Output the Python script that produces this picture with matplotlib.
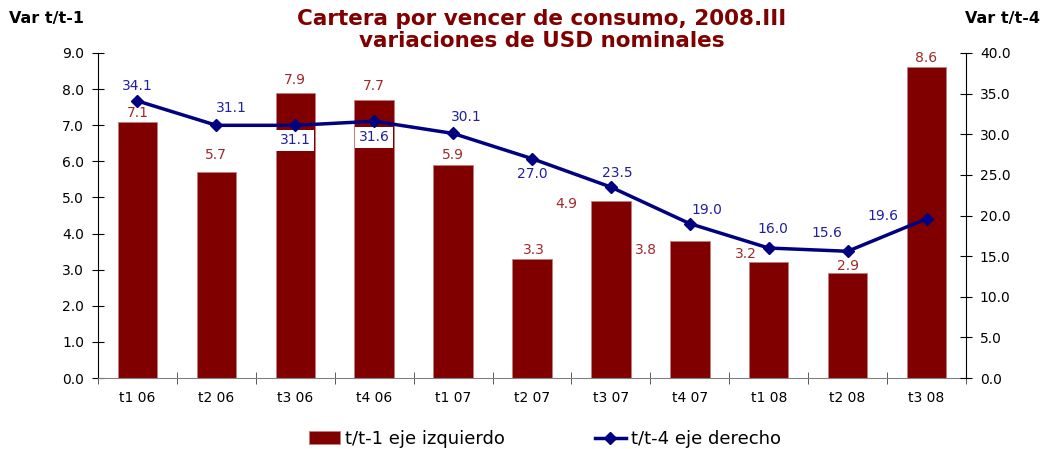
import matplotlib

matplotlib.use("Agg")
import matplotlib.pyplot as plt
import numpy as np

plt.rcParams["font.family"] = ["DejaVu Sans"]

# data
quarters = ["t1 06", "t2 06", "t3 06", "t4 06", "t1 07", "t2 07",
            "t3 07", "t4 07", "t1 08", "t2 08", "t3 08"]
var_t1 = [7.1, 5.7, 7.9, 7.7, 5.9, 3.3, 4.9, 3.8, 3.2, 2.9, 8.6]
var_t4 = [34.1, 31.1, 31.1, 31.6, 30.1, 27.0, 23.5, 19.0, 16.0, 15.6, 19.6]

# label centre offsets (pixels) so labels sit where the original put them
bar_off = [(0, 9), (0, 17), (0, 13), (0, 14), (0, 10), (2, 9),
           (-45, -3), (-44, -9), (-23, 8), (0, 7), (0, 9)]
line_off = [(0, 15), (15, 17), (0, -15), (0, -16), (13, 16), (0, -15),
            (6, 14), (17, 14), (4, 19), (-21, 18), (-44, 3)]

BAR = "#800000"
BAR_TXT = "#a0282a"
LINE = "#000080"
LINE_TXT = "#2020a0"

fig = plt.figure(figsize=(10.46, 4.49), dpi=100)
ax = fig.add_axes([0.0937, 0.158, 0.8298, 0.724])
ax2 = ax.twinx()
ax.set_zorder(ax2.get_zorder() - 1)
ax.patch.set_visible(True)
ax2.patch.set_visible(False)

x = np.arange(len(quarters))
bars = ax.bar(x, var_t1, width=0.5, color=BAR, edgecolor="#c08080", linewidth=0.6)
line, = ax2.plot(x, var_t4, color=LINE, lw=2.5, marker="D", ms=6, zorder=5)

ax.set_xlim(-0.5, len(quarters) - 0.5)
ax.set_ylim(0, 9)
ax2.set_ylim(0, 40)
ax.set_yticks(np.arange(0, 9.1, 1.0))
ax.set_yticklabels([f"{v:.1f}" for v in np.arange(0, 9.1, 1.0)])
ax2.set_yticks(np.arange(0, 40.1, 5.0))
ax2.set_yticklabels([f"{v:.1f}" for v in np.arange(0, 40.1, 5.0)])

ax.set_xticks(x)
ax.set_xticklabels(quarters)
ax.set_xticks(np.arange(-0.5, len(quarters), 1.0), minor=True)
ax.tick_params(axis="x", which="major", length=0, pad=9, labelsize=10)
ax.tick_params(axis="x", which="minor", length=8, direction="inout", color="#404040")
ax.tick_params(axis="y", length=8, direction="inout", labelsize=10, pad=6)
ax2.tick_params(axis="y", length=8, direction="inout", labelsize=10, pad=6)

for a in (ax, ax2):
    a.spines["top"].set_visible(False)
ax.spines["bottom"].set_color("#808080")
ax2.spines["bottom"].set_visible(False)
ax2.spines["left"].set_visible(False)
ax.spines["right"].set_visible(False)

for i, v in enumerate(var_t1):
    ax.annotate(f"{v:.1f}", (x[i], v), xytext=bar_off[i], textcoords="offset pixels",
                ha="center", va="center", fontsize=10, color=BAR_TXT)
for i, v in enumerate(var_t4):
    ax2.annotate(f"{v:.1f}", (x[i], v), xytext=line_off[i], textcoords="offset pixels",
                 ha="center", va="center", fontsize=10, color=LINE_TXT, zorder=2,
                 bbox=dict(boxstyle="square,pad=0.25", fc="white", ec="none"))

fig.text(0.518, 1 - 19 / 449, "Cartera por vencer de consumo, 2008.III",
         ha="center", va="center", fontsize=15.5, fontweight="bold", color=BAR)
fig.text(0.518, 1 - 41 / 449, "variaciones de USD nominales",
         ha="center", va="center", fontsize=15.5, fontweight="bold", color=BAR)
fig.text(0.009, 1 - 19 / 449, "Var t/t-1", ha="left", va="center", fontsize=11.5, fontweight="bold")
fig.text(0.994, 1 - 19 / 449, "Var t/t-4", ha="right", va="center", fontsize=11.5, fontweight="bold")

fig.legend([bars, line], ["t/t-1 eje izquierdo", "t/t-4 eje derecho"],
           loc="center", bbox_to_anchor=(0.521, 0.022), ncol=2, frameon=False,
           fontsize=13, columnspacing=5, handlelength=1.7, handletextpad=0.28)

fig.savefig("out.png", dpi=100)
plt.close(fig)
